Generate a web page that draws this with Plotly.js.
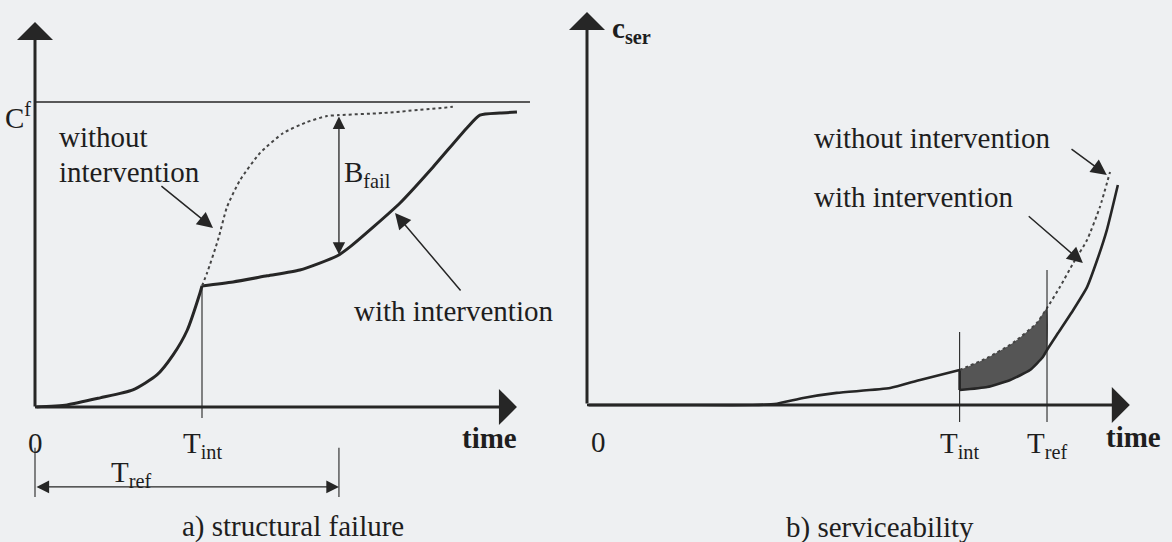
<!DOCTYPE html>
<html><head><meta charset="utf-8">
<script src="https://cdn.plot.ly/plotly-3.0.1.min.js"></script>
<style>html,body{margin:0;padding:0;background:#eef0f2}</style>
</head><body><div id="chart" style="width:1172px;height:542px"></div>
<script>
// ---------- Panel a) structural failure ----------
const failTimePre = [0, 0.96, 1.95, 2.93, 3.65, 4.13, 4.55, 4.94, 5.0];
const failCostPre = [0, 0.007, 0.03, 0.056, 0.105, 0.17, 0.25, 0.374, 0.397];
const failTimeWith = [5.0, 5.93, 6.95, 7.93, 9.04, 9.43, 10.93, 11.92, 12.93, 13.32, 13.92, 14.43];
const failCostWith = [0.397, 0.41, 0.43, 0.449, 0.495, 0.525, 0.669, 0.787, 0.915, 0.957, 0.964, 0.967];
const failTimeWithout = [5.0, 5.15, 5.48, 5.75, 6.14, 6.74, 7.43, 8.14, 8.74, 9.1, 10.42, 12.51];
const failCostWithout = [0.397, 0.439, 0.548, 0.656, 0.744, 0.833, 0.898, 0.934, 0.954, 0.957, 0.964, 0.984];
const failLimit = 1;      // C^f
const failTint = 5.0;
const failTref = 9.1;

// ---------- Panel b) serviceability ----------
const serTimePre = [0, 2.0, 3.6, 4.13, 4.7, 5.43, 6.59, 7.24, 8.1];
const serCostPre = [0, 0, 0, 0.06, 0.32, 0.55, 0.77, 1.14, 1.59];
const serTimeWith = [8.1, 8.7, 9.2, 9.63, 9.91, 10.0, 10.24, 10.57, 10.87, 11.09, 11.3, 11.54];
const serCostWith = [0.68, 0.82, 1.14, 1.59, 2.18, 2.5, 3.27, 4.32, 5.36, 6.59, 7.95, 10.0];
const serTimeWithout = [8.1, 8.7, 9.26, 9.78, 10.0, 10.28, 10.57, 10.87, 11.15, 11.37];
const serCostWithout = [1.59, 2.14, 2.82, 3.73, 4.41, 5.36, 6.45, 7.5, 9.0, 10.59];
const serTint = 8.1;
const serTref = 10.0;

function interp(xs, ys, x) {
  for (let i = 1; i < xs.length; i++) {
    if (x <= xs[i]) { const f = (x - xs[i-1]) / (xs[i] - xs[i-1]); return ys[i-1] + f * (ys[i] - ys[i-1]); }
  }
  return ys[ys.length - 1];
}

const INK = '#262626';
const FONT = {family: 'Liberation Serif, Times New Roman, serif', size: 29, color: '#1e1e1e'};

// shaded region between curves in panel b
const shadeX = [], shadeY = [];
serTimeWithout.forEach((t, i) => { if (t >= serTint && t <= serTref) { shadeX.push(t); shadeY.push(serCostWithout[i]); } });
for (let i = serTimeWith.length - 1; i >= 0; i--) { if (serTimeWith[i] >= serTint && serTimeWith[i] <= serTref) { shadeX.push(serTimeWith[i]); shadeY.push(serCostWith[i]); } }

const traces = [
  // a)
  {x: failTimePre, y: failCostPre, xaxis: 'x', yaxis: 'y', mode: 'lines', line: {color: INK, width: 3, shape: 'spline', smoothing: 0.6}},
  {x: failTimeWith, y: failCostWith, xaxis: 'x', yaxis: 'y', mode: 'lines', line: {color: INK, width: 3, shape: 'spline', smoothing: 0.6}},
  {x: failTimeWithout, y: failCostWithout, xaxis: 'x', yaxis: 'y', mode: 'lines', line: {color: '#444', width: 2, dash: 'dot', shape: 'spline', smoothing: 0.6}},
  // b)
  {x: shadeX, y: shadeY, xaxis: 'x2', yaxis: 'y2', mode: 'lines', fill: 'toself', fillcolor: '#555555', line: {width: 0, shape: 'spline', smoothing: 0.5}},
  {x: serTimePre, y: serCostPre, xaxis: 'x2', yaxis: 'y2', mode: 'lines', line: {color: INK, width: 2.6, shape: 'spline', smoothing: 0.5}},
  {x: [serTint, serTint], y: [serCostPre[serCostPre.length-1], serCostWith[0]], xaxis: 'x2', yaxis: 'y2', mode: 'lines', line: {color: INK, width: 2.6}},
  {x: serTimeWith, y: serCostWith, xaxis: 'x2', yaxis: 'y2', mode: 'lines', line: {color: INK, width: 2.6, shape: 'spline', smoothing: 0.5}},
  {x: serTimeWithout, y: serCostWithout, xaxis: 'x2', yaxis: 'y2', mode: 'lines', line: {color: '#444', width: 2, dash: 'dot', shape: 'spline', smoothing: 0.5}}
];

const shapes = [
  // a)
  {type: 'line', xref: 'x', yref: 'y', x0: 0, x1: 14.82, y0: failLimit, y1: failLimit, line: {color: INK, width: 1.4}},
  {type: 'line', xref: 'x', yref: 'y', x0: failTint, x1: failTint, y0: failCostPre[failCostPre.length-1], y1: -0.036, line: {color: INK, width: 1.1}},
  {type: 'line', xref: 'x', yref: 'y', x0: 0, x1: 0, y0: -0.134, y1: -0.295, line: {color: INK, width: 1.1}},
  {type: 'line', xref: 'x', yref: 'y', x0: failTref, x1: failTref, y0: -0.134, y1: -0.295, line: {color: INK, width: 1.1}},
  // b)
  {type: 'line', xref: 'x2', yref: 'y2', x0: serTint, x1: serTint, y0: 3.32, y1: -0.77, line: {color: INK, width: 1.1}},
  {type: 'line', xref: 'x2', yref: 'y2', x0: serTref, x1: serTref, y0: 6.14, y1: -0.77, line: {color: INK, width: 1.1}}
];

function txt(xr, yr, x, y, text, opts) {
  return Object.assign({xref: xr, yref: yr, x: x, y: y, text: text, showarrow: false, font: FONT, xanchor: 'center', yanchor: 'middle'}, opts || {});
}
function arr(xr, yr, x, y, ax, ay, opts) {
  return Object.assign({xref: xr, yref: yr, axref: xr, ayref: yr, x: x, y: y, ax: ax, ay: ay, text: '', showarrow: true,
    arrowcolor: INK, arrowwidth: 1.5, arrowhead: 2, arrowsize: 2.1, standoff: 0, startstandoff: 0}, opts || {});
}

const bTop = interp(failTimeWithout, failCostWithout, failTref);
const bBot = interp(failTimeWith, failCostWith, failTref);

const annotations = [
  // a) axes
  arr('x', 'y', 0, 1.262, 0, -0.003, {arrowwidth: 3, arrowhead: 1, arrowsize: 2}),
  arr('x', 'y', 14.43, 0, 0, 0, {arrowwidth: 3, arrowhead: 1, arrowsize: 2}),
  // a) B_fail double arrow
  arr('x', 'y', failTref, bBot, failTref, bTop, {arrowside: 'end+start', arrowwidth: 1.3, arrowhead: 2, arrowsize: 1.9}),
  // a) T_ref double arrow
  arr('x', 'y', failTref, -0.262, 0, -0.262, {arrowside: 'end+start', arrowwidth: 1.4, arrowhead: 2, arrowsize: 1.8}),
  // a) pointers
  arr('x', 'y', 5.33, 0.587, 3.74, 0.728),
  arr('x', 'y', 10.78, 0.636, 12.78, 0.377),
  // a) texts
  txt('x', 'y', -0.06, 0.955, 'C<sup>f</sup>', {xanchor: 'right'}),
  txt('x', 'y', 0.66, 0.885, 'without', {xanchor: 'left'}),
  txt('x', 'y', 0.66, 0.770, 'intervention', {xanchor: 'left'}),
  txt('x', 'y', 9.19, 0.764, 'B<sub>fail</sub>', {xanchor: 'left'}),
  txt('x', 'y', 9.49, 0.315, 'with intervention', {xanchor: 'left'}),
  txt('x', 'y', 0, -0.118, '0'),
  txt('x', 'y', failTint, -0.125, 'T<sub>int</sub>'),
  txt('x', 'y', 13.62, -0.102, '<b>time</b>'),
  txt('x', 'y', 2.87, -0.218, 'T<sub>ref</sub>'),
  txt('x', 'y', 7.72, -0.393, 'a) structural failure'),

  // b) axes
  arr('x2', 'y2', 0, 17.86, 0, 0, {arrowwidth: 3, arrowhead: 1, arrowsize: 2}),
  arr('x2', 'y2', 11.80, 0, 0, 0, {arrowwidth: 3, arrowhead: 1, arrowsize: 2}),
  // b) pointers
  arr('x2', 'y2', 11.30, 10.45, 10.5, 11.68),
  arr('x2', 'y2', 10.78, 6.45, 9.57, 8.64),
  // b) texts
  txt('x2', 'y2', 0.96, 17.05, '<b>c<sub>ser</sub></b>'),
  txt('x2', 'y2', 4.89, 12.14, 'without intervention', {xanchor: 'left'}),
  txt('x2', 'y2', 4.89, 9.45, 'with intervention', {xanchor: 'left'}),
  txt('x2', 'y2', 0.24, -1.68, '0'),
  txt('x2', 'y2', serTint, -1.8, 'T<sub>int</sub>'),
  txt('x2', 'y2', serTref, -1.8, 'T<sub>ref</sub>'),
  txt('x2', 'y2', 11.89, -1.45, '<b>time</b>'),
  txt('x2', 'y2', 6.37, -5.55, 'b) serviceability')
];

const hidden = {visible: false, fixedrange: true, showgrid: false, zeroline: false};
const layout = {
  width: 1172, height: 542,
  margin: {l: 0, r: 0, t: 0, b: 0, pad: 0},
  paper_bgcolor: '#eef0f2', plot_bgcolor: '#eef0f2',
  showlegend: false,
  xaxis: Object.assign({domain: [0, 570/1172], range: [-1.048, 16.018], anchor: 'y'}, hidden),
  yaxis: Object.assign({domain: [0, 1], range: [-0.4426, 1.3344], anchor: 'x'}, hidden),
  xaxis2: Object.assign({domain: [570/1172, 1], range: [-0.3696, 12.717], anchor: 'y2'}, hidden),
  yaxis2: Object.assign({domain: [0, 1], range: [-6.227, 18.409], anchor: 'x2'}, hidden),
  shapes: shapes,
  annotations: annotations
};
Plotly.newPlot('chart', traces, layout, {displayModeBar: false, staticPlot: true});
</script>
</body></html>
